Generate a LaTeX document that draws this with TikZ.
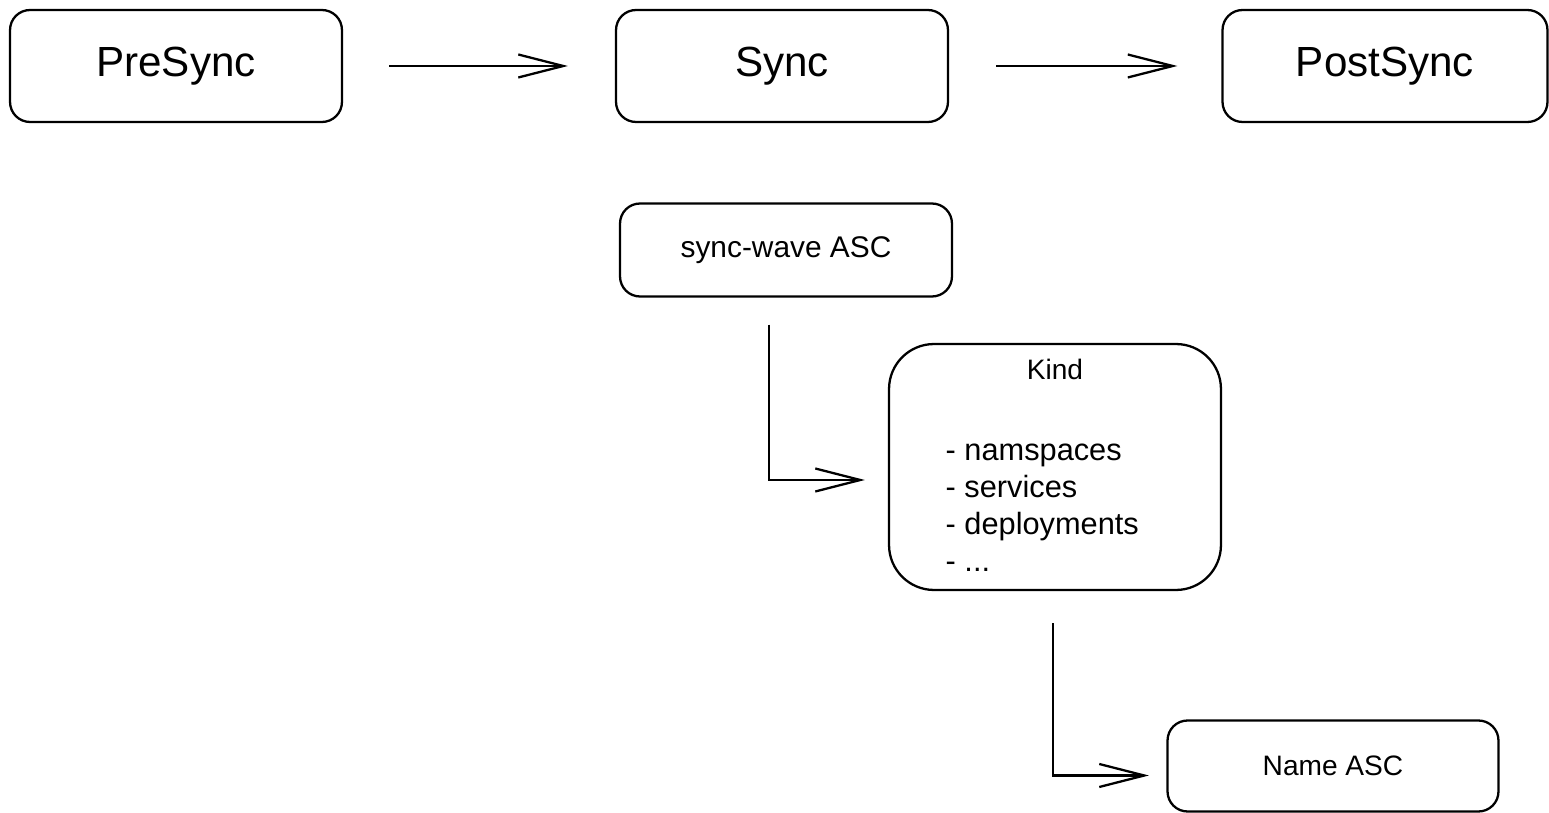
\documentclass[tikz,border=0pt]{standalone}
\usepackage{fontspec}
\setmainfont{Liberation Sans}
\usetikzlibrary{arrows.meta}
\begin{document}
\begin{tikzpicture}[x=0.02cm,y=-0.02cm,
box/.style={draw, line width=1.3pt, rounded corners=0.4cm,
  minimum width=6.64cm, minimum height=2.24cm, font=\fontsize{24}{28}\selectfont},
smallbox/.style={box, minimum height=1.86cm, font=\fontsize{16}{21}\selectfont},
arr/.style={line width=1.3pt, -{Straight Barb[length=0.9cm,width=0.46cm,line width=1.3pt]}}]
\useasboundingbox (0,0) rectangle (1549,813);
% phases
\node[box] (pre) at (176,66) {PreSync};
\node[box] (sync) at (782,66) {Sync};
\node[box, minimum width=6.5cm] (post) at (1385,66) {PostSync};
\draw[arr, shorten <=0.92cm, shorten >=0.94cm] (pre) -- (sync);
\draw[arr, shorten <=0.94cm, shorten >=0.88cm] (sync) -- (post);
% order inside sync
\node[smallbox, font=\fontsize{17}{21}\selectfont] (wave) at (786,250) {sync-wave ASC};
\node[smallbox, rounded corners=0.9cm, minimum height=4.92cm] (kind) at (1055,467) {};
\node[font=\fontsize{16}{21}\selectfont] (kindtitle) at ([yshift=-0.54cm]kind.north) {Kind};
\node[anchor=west, align=left, font=\fontsize{17.5}{21}\selectfont] (kindlist)
  at ([xshift=-2.31cm,yshift=-0.82cm]kind.center)
  {- namspaces\\- services\\- deployments\\- ...};
\node[smallbox, minimum width=6.62cm, minimum height=1.82cm] (name) at (1333,766) {Name ASC};
\draw[arr] ([xshift=-0.34cm,yshift=-0.54cm]wave.south) |- ([xshift=-0.46cm,yshift=-0.26cm]kind.west);
\draw[arr] ([xshift=-0.04cm,yshift=-0.64cm]kind.south) |- ([xshift=-0.35cm,yshift=-0.19cm]name.west);
\end{tikzpicture}
\end{document}
